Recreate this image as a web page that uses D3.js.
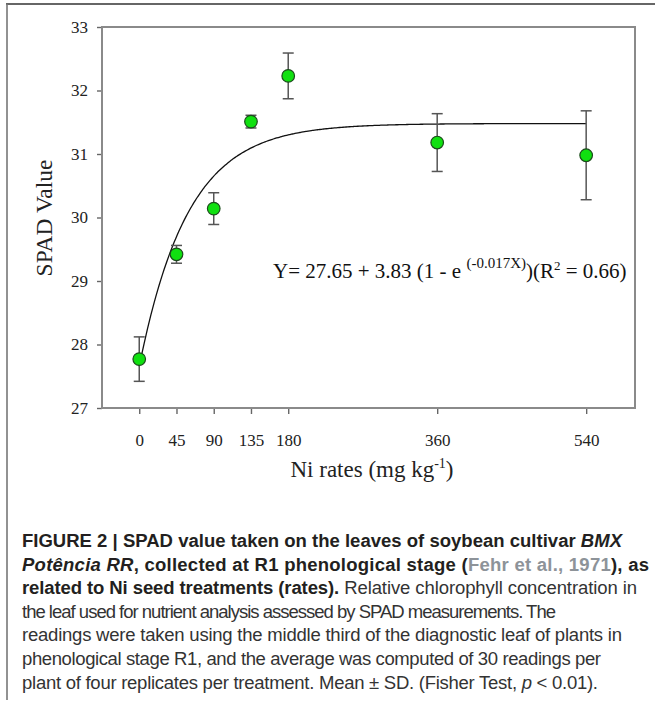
<!DOCTYPE html>
<html><head><meta charset="utf-8">
<script src="https://cdn.jsdelivr.net/npm/d3@7"></script>
<style>html,body{margin:0;padding:0;background:#fff;} svg{display:block;}</style>
</head><body>
<svg id="fig" width="655" height="702"></svg>
<script>
// ---- data ----
const rates = [0, 45, 90, 135, 180, 360, 540];
const spadMean = [27.77, 29.42, 30.14, 31.51, 32.23, 31.18, 30.98];
const spadSD = [0.35, 0.14, 0.25, 0.10, 0.36, 0.455, 0.70];
const xTickValues = [0, 45, 90, 135, 180, 360, 540];
const yTickValues = [27, 28, 29, 30, 31, 32, 33];
// fitted model shown on the chart: Y = a + b (1 - e^(-kX))
const fitA = 27.65, fitB = 3.83, fitK = 0.017, fitR2 = 0.66;
const yTitle = "SPAD Value";
const xTitleMain = "Ni rates (mg kg";
const xTitleSup = "-1";
const captionLines = [
  [["FIGURE 2 | SPAD value taken on the leaves of soybean cultivar ", "b"], ["BMX", "bi"]],
  [["Potência RR", "bi"], [", collected at R1 phenological stage (", "b"], ["Fehr et al., 1971", "bl"], ["), as", "b"]],
  [["related to Ni seed treatments (rates).", "b"], [" Relative chlorophyll concentration in", "r"]],
  [["the leaf used for nutrient analysis assessed by SPAD measurements. The", "r"]],
  [["readings were taken using the middle third of the diagnostic leaf of plants in", "r"]],
  [["phenological stage R1, and the average was computed of 30 readings per", "r"]],
  [["plant of four replicates per treatment. Mean ± SD. (Fisher Test, ", "r"], ["p", "i"], [" < 0.01).", "r"]]
];
// right end of each caption line in the reference figure
const captionLineEnds = [622, 649, 637, 556, 622, 601, 598];

const svg = d3.select("#fig");
const serif = "'Liberation Serif','Times New Roman',serif";
const sans = "'Liberation Sans',Arial,Helvetica,sans-serif";

// outer figure frame (top & left)
svg.append("line").attr("x1", 6).attr("x2", 655).attr("y1", 4).attr("y2", 4)
  .attr("stroke", "#333").attr("stroke-width", 1.6);
svg.append("line").attr("x1", 7).attr("x2", 7).attr("y1", 4).attr("y2", 700)
  .attr("stroke", "#777").attr("stroke-width", 1.6);

const plot = {left: 102, right: 635, top: 27, bottom: 408};
const x = d3.scaleLinear().domain([-45, 599]).range([plot.left, plot.right]);
const y = d3.scaleLinear().domain([27, 33]).range([plot.bottom, plot.top]);

const frameColor = "#8a8a8a";
// axes
const gy = svg.append("g").attr("transform", `translate(${plot.left},0)`)
  .call(d3.axisLeft(y).tickValues(yTickValues).tickFormat(d3.format("d")).tickSize(5).tickPadding(9));
const gx = svg.append("g").attr("transform", `translate(0,${plot.bottom})`)
  .call(d3.axisBottom(x).tickValues(xTickValues).tickFormat(d3.format("d")).tickSize(6).tickPadding(20));
[gx, gy].forEach(g => {
  g.select(".domain").remove();
  g.selectAll(".tick line").attr("stroke", "#666").attr("stroke-width", 1.4);
  g.selectAll(".tick text").attr("font-family", serif).attr("font-size", 17).attr("fill", "#222");
});
// plot frame
svg.append("rect").attr("x", plot.left).attr("y", plot.top)
  .attr("width", plot.right - plot.left).attr("height", plot.bottom - plot.top)
  .attr("fill", "none").attr("stroke", frameColor).attr("stroke-width", 2);

// fitted curve
const fit = v => fitA + fitB * (1 - Math.exp(-fitK * v));
const curveX = d3.range(0, 540.01, 2);
svg.append("path").datum(curveX)
  .attr("d", d3.line().x(d => x(d)).y(d => y(fit(d))).curve(d3.curveMonotoneX))
  .attr("fill", "none").attr("stroke", "#111").attr("stroke-width", 1.3);

// error bars and points
const pts = rates.map((r, i) => ({r, m: spadMean[i], s: spadSD[i]}));
const eb = svg.append("g").attr("stroke", "#555").attr("stroke-width", 1.5);
pts.forEach(p => {
  eb.append("line").attr("x1", x(p.r)).attr("x2", x(p.r)).attr("y1", y(p.m - p.s)).attr("y2", y(p.m + p.s));
  [p.m - p.s, p.m + p.s].forEach(v => eb.append("line")
    .attr("x1", x(p.r) - 5.5).attr("x2", x(p.r) + 5.5).attr("y1", y(v)).attr("y2", y(v)));
});
svg.append("g").selectAll("circle").data(pts).join("circle")
  .attr("cx", d => x(d.r)).attr("cy", d => y(d.m)).attr("r", 6.3)
  .attr("fill", "#10e010").attr("stroke", "#1c4a1c").attr("stroke-width", 1.2);

// equation
const eq = svg.append("text").attr("x", 273).attr("y", 278)
  .attr("font-family", serif).attr("font-size", 21).attr("fill", "#111");
eq.append("tspan").text(`Y= ${fitA} + ${fitB} (1 - e `);
eq.append("tspan").attr("dy", -10).attr("font-size", 15).text(`(-${fitK}X)`);
eq.append("tspan").attr("dy", 10).text(")(R");
eq.append("tspan").attr("dy", -8).attr("font-size", 13).text("2");
eq.append("tspan").attr("dy", 8).text(` = ${fitR2.toFixed(2)})`);

// axis titles
svg.append("text").attr("transform", "translate(52,218) rotate(-90)")
  .attr("text-anchor", "middle").attr("font-family", serif).attr("font-size", 23.5).attr("fill", "#222")
  .text(yTitle);
const xt = svg.append("text").attr("x", 372).attr("y", 477).attr("text-anchor", "middle")
  .attr("font-family", serif).attr("font-size", 23).attr("fill", "#222");
xt.append("tspan").text(xTitleMain);
xt.append("tspan").attr("dy", -9).attr("font-size", 14).text(xTitleSup);
xt.append("tspan").attr("dy", 9).text(")");

// caption
const capX = 22, capY0 = 547, capDY = 23.6;
const styleOf = {
  b: {w: "bold", s: "normal", c: "#231f20"},
  bi: {w: "bold", s: "italic", c: "#231f20"},
  bl: {w: "bold", s: "normal", c: "#8d9399"},
  r: {w: "normal", s: "normal", c: "#333"},
  i: {w: "normal", s: "italic", c: "#333"}
};
const cap = svg.append("g").attr("font-family", sans);
const lineNodes = captionLines.map((segs, li) => {
  const t = cap.append("text").attr("x", capX).attr("y", capY0 + li * capDY).attr("font-size", 17);
  segs.forEach(([txt, st]) => t.append("tspan").text(txt)
    .attr("font-weight", styleOf[st].w).attr("font-style", styleOf[st].s).attr("fill", styleOf[st].c));
  return t;
});
// fit the font size so that the first line spans its width in the figure
const w0 = lineNodes[0].node().getComputedTextLength();
const fs = 17 * (captionLineEnds[0] - capX) / w0;
lineNodes.forEach((t, i) => {
  t.attr("font-size", fs);
  t.attr("textLength", captionLineEnds[i] - capX).attr("lengthAdjust", "spacing");
});
</script>
</body></html>
